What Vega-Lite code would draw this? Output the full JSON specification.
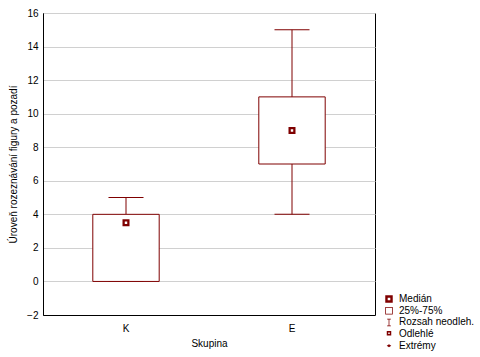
{
  "$schema": "https://vega.github.io/schema/vega-lite/v6.json",
  "width": 332,
  "height": 302,
  "autosize": "none",
  "padding": {"left": 43, "top": 13, "right": 105, "bottom": 42},
  "background": "white",
  "config": {
    "font": "Liberation Sans",
    "view": {"stroke": "black", "strokeWidth": 1},
    "axis": {"labelFontSize": 10, "titleFontSize": 10, "labelColor": "black", "titleColor": "black", "titleFontWeight": "normal", "domain": true, "domainColor": "black", "domainWidth": 1, "tickColor": "black"}
  },
  "data": {
    "values": [
      {"group": "K", "min": 0, "q1": 0, "median": 3.5, "q3": 4, "max": 5, "kind": "Medián"},
      {"group": "E", "min": 4, "q1": 7, "median": 9, "q3": 11, "max": 15, "kind": "Medián"}
    ]
  },
  "encoding": {
    "x": {"field": "group", "type": "nominal", "sort": ["K", "E"],
          "scale": {"paddingInner": 0, "paddingOuter": 0},
          "axis": {"title": "Skupina", "labelAngle": 0, "ticks": false, "labelPadding": 8, "titlePadding": 5, "grid": false}}
  },
  "layer": [
    {
      "mark": {"type": "rule", "color": "#7f0000", "strokeWidth": 1},
      "encoding": {
        "y": {"field": "q3", "type": "quantitative",
              "scale": {"domain": [-2, 16], "nice": false, "zero": false},
              "axis": {"title": "Úroveň rozeznávání figury a pozadí", "tickCount": 9, "grid": true, "gridColor": "#d0d0d0", "gridOpacity": 1, "gridWidth": 1, "ticks": false, "labelPadding": 5, "titlePadding": 8}},
        "y2": {"field": "max"}
      }
    },
    {
      "mark": {"type": "rule", "color": "#7f0000", "strokeWidth": 1},
      "encoding": {"y": {"field": "min", "type": "quantitative"}, "y2": {"field": "q1"}}
    },
    {
      "mark": {"type": "tick", "orient": "horizontal", "size": 35, "thickness": 1, "color": "#7f0000", "opacity": 1},
      "encoding": {"y": {"field": "max", "type": "quantitative"}}
    },
    {
      "mark": {"type": "tick", "orient": "horizontal", "size": 35, "thickness": 1, "color": "#7f0000", "opacity": 1},
      "encoding": {"y": {"field": "min", "type": "quantitative"}}
    },
    {
      "mark": {"type": "rect", "width": {"band": 0.4}, "fill": "white", "stroke": "#7f0000", "strokeWidth": 1},
      "encoding": {"y": {"field": "q1", "type": "quantitative"}, "y2": {"field": "q3"}}
    },
    {
      "mark": {"type": "point", "filled": true, "fill": "#7f0000", "strokeWidth": 0, "size": 49, "opacity": 1},
      "encoding": {
        "y": {"field": "median", "type": "quantitative"},
        "shape": {"field": "kind", "type": "nominal",
          "scale": {
            "domain": ["Medián", "25%-75%", "Rozsah neodleh.", "Odlehlé", "Extrémy"],
            "range": [
              "M-1,-1H1V1H-1Z M-0.35,-0.35V0.35H0.35V-0.35Z",
              "M-1,-1H1V1H-1Z M-0.8,-0.8V0.8H0.8V-0.8Z",
              "M-0.5,-1H0.5V-0.8H0.1V0.8H0.5V1H-0.5V0.8H-0.1V-0.8H-0.5Z",
              "M-0.6,-0.8H0.6V0.4H-0.6Z M-0.2,-0.4V0H0.2V-0.4Z",
              "M-0.6,0L0,-0.4L0.6,0L0,0.4Z"
            ]
          },
          "legend": {"title": null, "orient": "none", "legendX": 341, "legendY": 281, "symbolSize": 56, "symbolFillColor": "#7f0000", "symbolStrokeWidth": 0, "symbolOpacity": 1, "labelFontSize": 10, "labelColor": "black", "rowPadding": 1.7, "labelOffset": 5}
        }
      }
    }
  ]
}
